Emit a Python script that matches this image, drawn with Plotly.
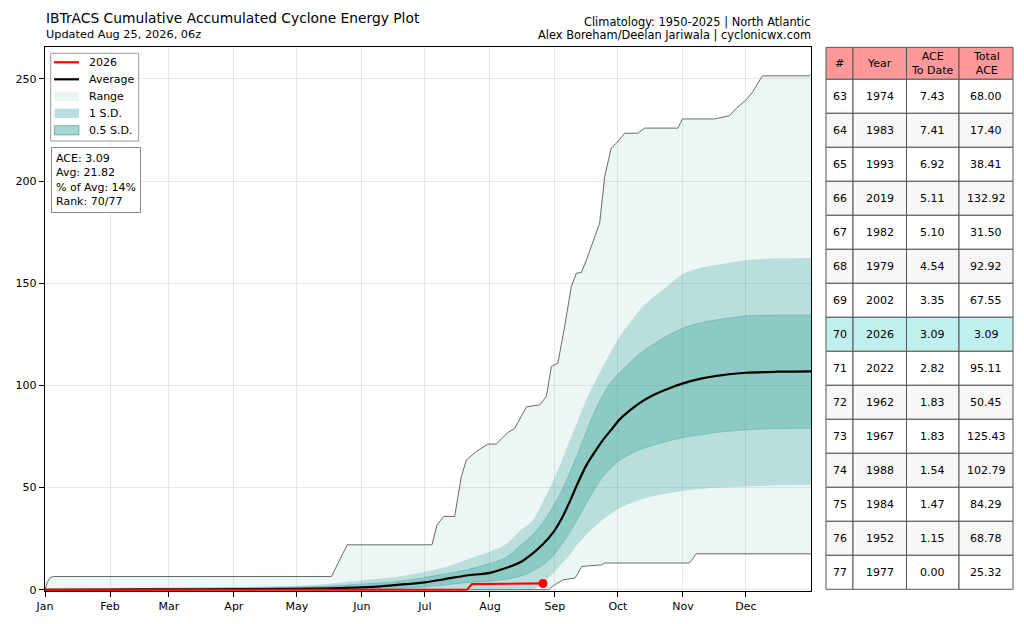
import plotly.graph_objects as go

# ---------------- data ----------------
month_labels = ["Jan", "Feb", "Mar", "Apr", "May", "Jun", "Jul", "Aug", "Sep", "Oct", "Nov", "Dec"]
month_start_days = [0, 31, 59, 90, 120, 151, 181, 212, 243, 273, 304, 334]
y_ticks = [0, 50, 100, 150, 200, 250]

# record maximum cumulative ACE (upper edge of range)
max_days = [0, 1, 2.5, 4, 136.5, 140, 144, 184.4, 186.8, 190, 195.2, 198.4, 200.8, 205.6, 211, 215,
            220.6, 223.8, 229.4, 235.7, 238.9, 241.3, 244.4, 247.6, 250.8, 253.2, 255.6, 258, 261.9,
            264.3, 266.7, 269.8, 272.2, 276.2, 282.5, 285.7, 301.6, 303.7, 319, 322.2, 326.2, 329.4,
            334.1, 337.3, 341.8, 364.3, 365]
max_ace = [0, 3.5, 6, 6.5, 6.5, 14, 22, 22, 31.8, 35.9, 35.9, 55.4, 63.6, 67.7, 71.3, 71.3,
           77, 79, 89.5, 90.5, 94.6, 109.3, 110.9, 128.8, 148.4, 154.9, 155.3, 161.4, 172.1,
           179.4, 202.2, 216.1, 218.5, 223.4, 223.4, 225.9, 225.9, 230.4, 230.4, 231.2, 232.0, 235.6,
           239.7, 243.8, 251.5, 251.5, 252.3]

# record minimum cumulative ACE (lower edge of range)
min_days = [0, 240, 242.2, 246.9, 252.5, 254, 255.7, 265.2, 266.8, 307.1, 310.3, 365]
min_ace = [0, 0, 2.0, 4.9, 5.7, 8, 11.4, 12.2, 13.1, 13.1, 17.6, 17.6]

# climatology (1950-2025)
clim_days = [0, 31, 59, 90, 120, 136, 151, 160, 169, 181, 191, 201, 212, 220, 226, 232, 237, 242,
             246, 250, 254, 258, 262, 266, 270, 274, 279, 284, 289, 296, 304, 312, 320, 334, 349, 365]
avg_ace = [0.0, 0.1, 0.2, 0.3, 0.5, 0.7, 1.2, 1.7, 2.5, 3.6, 5.3, 7.0, 8.3, 10.8, 13.2, 17.5, 22.0, 27.8,
           34.5, 43.0, 52.5, 61.0, 67.5, 73.5, 78.5, 83.5, 88.0, 91.8, 94.8, 98.0, 101.0, 103.2, 104.7,
           106.2, 106.7, 106.9]
sd1_upper = [0.5, 0.8, 1.0, 1.3, 2.0, 3.0, 4.5, 5.5, 6.5, 8.8, 11.2, 14.7, 18.7, 22.5, 28.5, 33.5, 42.5,
             53.0, 62.5, 73.0, 83.0, 93.0, 101.5, 109.5, 117.0, 124.0, 131.0, 137.5, 142.5, 148.0, 154.5,
             157.3, 159.0, 161.3, 162.2, 162.4]
sd1_lower = [0, 0, 0, 0, 0, 0, 0, 0, 0, 0, 0, 0, 0, 0, 0, 0, 3.0, 8.0, 12.5, 17.0, 22.5, 27.0, 31.0,
             34.5, 37.5, 40.0, 42.3, 44.2, 45.7, 47.0, 48.5, 49.3, 49.9, 50.5, 51.1, 51.3]
sd05_upper = [0.3, 0.5, 0.6, 0.8, 1.3, 1.8, 2.8, 3.4, 4.2, 6.0, 7.8, 9.8, 12.8, 16.0, 21.0, 26.5, 32.5,
              40.5, 48.0, 57.0, 67.0, 77.5, 87.5, 95.5, 102.0, 106.5, 111.5, 116.0, 119.5, 124.0, 128.0,
              130.5, 132.1, 134.0, 134.4, 134.5]
sd05_lower = [0, 0, 0, 0, 0, 0, 0.2, 0.5, 0.8, 1.4, 2.4, 3.5, 4.3, 5.2, 6.5, 9.0, 12.0, 16.5, 22.0,
              28.0, 35.0, 42.5, 49.5, 55.5, 60.0, 63.5, 66.5, 68.8, 70.5, 72.5, 74.5, 75.8, 77.0, 78.3,
              78.9, 79.1]

# 2026 season to date
days_2026 = [0, 201, 203.5, 223.5, 225, 237.3]
ace_2026 = [0, 0, 2.8, 2.8, 3.09, 3.09]

# summary statistics
stat_ace = 3.09
stat_avg = 21.82
stat_pct = 14
stat_rank = "70/77"

# legend entries
legend_labels = ["2026", "Average", "Range", "1 S.D.", "0.5 S.D."]

# ranking table
table_headers = ["#", "Year", "ACE<br>To Date", "Total<br>ACE"]
table_rank = [63, 64, 65, 66, 67, 68, 69, 70, 71, 72, 73, 74, 75, 76, 77]
table_year = [1974, 1983, 1993, 2019, 1982, 1979, 2002, 2026, 2022, 1962, 1967, 1988, 1984, 1952, 1977]
table_ace_to_date = [7.43, 7.41, 6.92, 5.11, 5.10, 4.54, 3.35, 3.09, 2.82, 1.83, 1.83, 1.54, 1.47, 1.15, 0.00]
table_total_ace = [68.00, 17.40, 38.41, 132.92, 31.50, 92.92, 67.55, 3.09, 95.11, 50.45, 125.43, 102.79,
                   84.29, 68.78, 25.32]
highlight_year = 2026

# ---------------- geometry helpers (pixel -> paper) ----------------
W, H = 1024, 624
ML, MR, MT, MB = 45, 213, 47, 33
PW, PH = W - ML - MR, H - MT - MB


def px_x(px):
    return (px - ML) / PW


def px_y(py):
    return (H - MB - py) / PH


FONT = "DejaVu Sans"
teal = "10,140,130"
range_fill = f"rgba({teal},0.078)"
sd1_fill = f"rgba({teal},0.225)"
sd05_fill = f"rgba({teal},0.245)"
sd05_edge = f"rgba({teal},0.28)"
edge_grey = "#6a6a6a"
SMOOTH = 0.8

fig = go.Figure()

# range fill
fig.add_trace(go.Scatter(x=min_days, y=min_ace, mode="lines", line=dict(width=0),
                         showlegend=False, hoverinfo="skip"))
fig.add_trace(go.Scatter(x=max_days, y=max_ace, mode="lines", line=dict(width=0),
                         fill="tonexty", fillcolor=range_fill, name="Range",
                         showlegend=False, hoverinfo="skip"))
# 1 S.D.
fig.add_trace(go.Scatter(x=clim_days, y=sd1_lower, mode="lines",
                         line=dict(width=0, shape="spline", smoothing=SMOOTH),
                         showlegend=False, hoverinfo="skip"))
fig.add_trace(go.Scatter(x=clim_days, y=sd1_upper, mode="lines",
                         line=dict(width=0, shape="spline", smoothing=SMOOTH),
                         fill="tonexty", fillcolor=sd1_fill, name="1 S.D.",
                         showlegend=False, hoverinfo="skip"))
# 0.5 S.D.
fig.add_trace(go.Scatter(x=clim_days, y=sd05_lower, mode="lines",
                         line=dict(width=1, color=sd05_edge, shape="spline", smoothing=SMOOTH),
                         showlegend=False, hoverinfo="skip"))
fig.add_trace(go.Scatter(x=clim_days, y=sd05_upper, mode="lines",
                         line=dict(width=1, color=sd05_edge, shape="spline", smoothing=SMOOTH),
                         fill="tonexty", fillcolor=sd05_fill, name="0.5 S.D.",
                         showlegend=False, hoverinfo="skip"))
# range edges
fig.add_trace(go.Scatter(x=max_days, y=max_ace, mode="lines", line=dict(color=edge_grey, width=1),
                         showlegend=False, hoverinfo="skip"))
fig.add_trace(go.Scatter(x=min_days, y=min_ace, mode="lines", line=dict(color=edge_grey, width=1),
                         showlegend=False, hoverinfo="skip"))
# average
fig.add_trace(go.Scatter(x=clim_days, y=avg_ace, mode="lines",
                         line=dict(color="black", width=2.2, shape="spline", smoothing=SMOOTH),
                         name="Average", showlegend=False))
# 2026
fig.add_trace(go.Scatter(x=days_2026, y=ace_2026, mode="lines", line=dict(color="red", width=2.2),
                         name="2026", showlegend=False))
fig.add_trace(go.Scatter(x=[days_2026[-1]], y=[ace_2026[-1]], mode="markers",
                         marker=dict(color="red", size=9), showlegend=False, cliponaxis=False))

axis_common = dict(showline=True, linecolor="black", linewidth=1.2, mirror=True,
                   ticks="outside", ticklen=5, tickcolor="black", tickwidth=1,
                   showgrid=True, gridcolor="rgba(0,0,0,0.085)", gridwidth=1, zeroline=False,
                   tickfont=dict(family=FONT, size=11, color="black"))

fig.update_xaxes(range=[0, 365], tickmode="array", tickvals=month_start_days, ticktext=month_labels,
                 **axis_common)
fig.update_yaxes(range=[-0.6, 265.6], tickmode="array", tickvals=y_ticks, **axis_common)

annotations = [
    dict(text="IBTrACS Cumulative Accumulated Cyclone Energy Plot", x=px_x(44), y=px_y(17.5),
         xanchor="left", yanchor="middle", font=dict(size=13.8)),
    dict(text="Updated Aug 25, 2026, 06z", x=px_x(44), y=px_y(34.5),
         xanchor="left", yanchor="middle", font=dict(size=11.3)),
    dict(text="Climatology: 1950-2025 | North Atlantic", x=px_x(812.5), y=px_y(21.5),
         xanchor="right", yanchor="middle", font=dict(size=11.4)),
    dict(text="Alex Boreham/Deelan Jariwala | cyclonicwx.com", x=px_x(812.5), y=px_y(34.5),
         xanchor="right", yanchor="middle", font=dict(size=11.4)),
    dict(text=(f"ACE: {stat_ace:.2f}<br>Avg: {stat_avg:.2f}<br>% of Avg: {stat_pct}%<br>"
               f"Rank: {stat_rank}"),
         x=px_x(50.5), y=px_y(147.5), xanchor="left", yanchor="top", align="left",
         bordercolor="#8a8a8a", borderwidth=1, borderpad=4, bgcolor="white",
         font=dict(size=11)),
]

shapes = []

# ---------------- legend (drawn box, matplotlib style) ----------------
shapes.append(dict(type="rect", xref="paper", yref="paper", x0=px_x(50.7), x1=px_x(138.7),
                   y0=px_y(141), y1=px_y(53.3), fillcolor="white",
                   line=dict(color="#9a9a9a", width=1), layer="above"))
legend_rows = [62.3, 79.3, 96.3, 113.3, 130.3]
legend_styles = [
    dict(kind="line", color="red"),
    dict(kind="line", color="black"),
    dict(kind="patch", fill=f"rgba({teal},0.085)", edge=f"rgba({teal},0.0)"),
    dict(kind="patch", fill=f"rgba({teal},0.286)", edge=f"rgba({teal},0.0)"),
    dict(kind="patch", fill=f"rgba({teal},0.36)", edge=f"rgba({teal},0.5)"),
]
for label, yc, st in zip(legend_labels, legend_rows, legend_styles):
    if st["kind"] == "line":
        shapes.append(dict(type="line", xref="paper", yref="paper", x0=px_x(54), x1=px_x(79),
                           y0=px_y(yc), y1=px_y(yc), line=dict(color=st["color"], width=2.2),
                           layer="above"))
    else:
        shapes.append(dict(type="rect", xref="paper", yref="paper", x0=px_x(54.5), x1=px_x(79),
                           y0=px_y(yc + 4.6), y1=px_y(yc - 4.6), fillcolor=st["fill"],
                           line=dict(color=st["edge"], width=1), layer="above"))
    annotations.append(dict(text=label, x=px_x(87.2), y=px_y(yc), xanchor="left", yanchor="middle",
                            font=dict(size=11)))

# ---------------- ranking table ----------------
col_edges = [826, 853, 906.5, 959, 1013]
header_top, header_bot = 47.3, 79.3
row_h = 34.0
border = "#555555"

for c in range(4):
    x0, x1 = col_edges[c], col_edges[c + 1]
    shapes.append(dict(type="rect", xref="paper", yref="paper", x0=px_x(x0), x1=px_x(x1),
                       y0=px_y(header_bot), y1=px_y(header_top), fillcolor="#ff9999",
                       line=dict(color=border, width=1), layer="above"))
    annotations.append(dict(text=table_headers[c], x=px_x((x0 + x1) / 2),
                            y=px_y((header_top + header_bot) / 2), xanchor="center",
                            yanchor="middle", font=dict(size=11), align="center"))

for r in range(len(table_rank)):
    top = header_bot + r * row_h
    bot = top + row_h
    if table_year[r] == highlight_year:
        bg = "#bff0ee"
    elif r % 2 == 1:
        bg = "#f7f7f7"
    else:
        bg = "white"
    values = [str(table_rank[r]), str(table_year[r]), f"{table_ace_to_date[r]:.2f}",
              f"{table_total_ace[r]:.2f}"]
    for c in range(4):
        x0, x1 = col_edges[c], col_edges[c + 1]
        shapes.append(dict(type="rect", xref="paper", yref="paper", x0=px_x(x0), x1=px_x(x1),
                           y0=px_y(bot), y1=px_y(top), fillcolor=bg,
                           line=dict(color=border, width=1), layer="above"))
        annotations.append(dict(text=values[c], x=px_x((x0 + x1) / 2), y=px_y((top + bot) / 2),
                                xanchor="center", yanchor="middle", font=dict(size=11)))

for a in annotations:
    a.setdefault("xref", "paper")
    a.setdefault("yref", "paper")
    a.setdefault("showarrow", False)

fig.update_layout(
    width=W, height=H,
    margin=dict(l=ML, r=MR, t=MT, b=MB, pad=0),
    plot_bgcolor="white", paper_bgcolor="white",
    font=dict(family=FONT, size=11, color="black"),
    showlegend=False,
    annotations=annotations,
    shapes=shapes,
    hovermode=False,
)

fig.write_html("out.html",
               config={"displayModeBar": False, "staticPlot": True},
               post_script="document.body.style.margin='0px';document.body.style.padding='0px';")
